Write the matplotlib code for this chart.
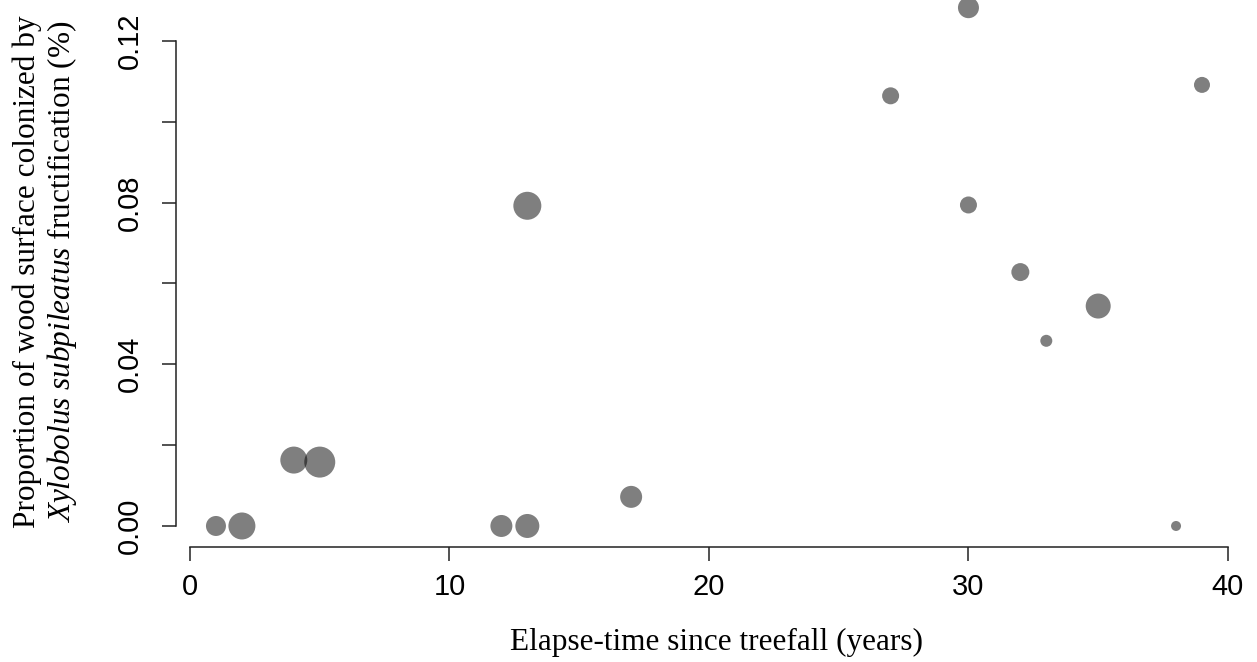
import numpy as np
import matplotlib.pyplot as plt

# Data
years = [1, 2, 4, 5, 12, 13, 13, 17, 27, 30, 30, 32, 33, 35, 38, 39]
proportion = [0.0, 0.0, 0.0163, 0.0158, 0.0, 0.0, 0.0792, 0.0072,
              0.1064, 0.1282, 0.0794, 0.0628, 0.0458, 0.0544, 0.0, 0.1091]
# relative bubble size (marker diameter, px)
bubble = [20, 27, 27, 31, 22, 24, 28, 22, 17, 21, 17, 18, 12, 25, 10, 16]

x_ticks = [0, 10, 20, 30, 40]
y_ticks = [0.0, 0.02, 0.04, 0.06, 0.08, 0.10, 0.12]
y_ticklabels = ["0.00", "", "0.04", "", "0.08", "", "0.12"]

plt.rcParams['mathtext.fontset'] = 'custom'
plt.rcParams['mathtext.rm'] = 'Liberation Serif'
plt.rcParams['mathtext.it'] = 'Liberation Serif:italic'

W, H = 1257, 662
fig = plt.figure(figsize=(W / 100, H / 100), dpi=100)
ax = fig.add_axes([176 / W, (H - 547) / H, (W - 176) / W, 547 / H])

# marker diameter px -> points, squared for scatter
sizes = [(d / (100 / 72)) ** 2 for d in bubble]
ax.scatter(years, proportion, s=sizes, c="black", alpha=0.5,
           linewidths=0, clip_on=False, zorder=3)

ax.set_xlim(-0.54, 41.12)
ax.set_ylim(-0.0052, 0.1301)

for side in ["top", "right"]:
    ax.spines[side].set_visible(False)
ax.spines["left"].set_bounds(0, 0.12)
ax.spines["bottom"].set_bounds(0, 40)
for side in ["left", "bottom"]:
    ax.spines[side].set_linewidth(1.1)
    ax.spines[side].set_color("#222222")

ax.set_xticks(x_ticks)
ax.set_xticklabels([str(t) for t in x_ticks], fontfamily="Liberation Sans", fontsize=21)
ax.set_yticks(y_ticks)
ax.set_yticklabels(y_ticklabels, fontfamily="Liberation Sans", fontsize=21,
                   rotation=90, va="center")
ax.tick_params(axis="both", length=10, width=1.1, color="#222222")
ax.tick_params(axis="x", pad=9)
ax.tick_params(axis="y", pad=13)

ax.set_xlabel("Elapse-time since treefall (years)", fontfamily="Liberation Serif",
              fontsize=22.5, labelpad=19)

fig.text(27 / W, 1 - 272 / H, "Proportion of wood surface colonized by",
         rotation=90, ha="center", va="center", fontfamily="Liberation Serif", fontsize=22.5)
fig.text(62 / W, 1 - 272 / H,
         r"$\mathit{Xylobolus\ subpileatus}$ fructification (%)",
         rotation=90, ha="center", va="center", fontfamily="Liberation Serif", fontsize=22.5)

fig.savefig("out.png", dpi=100)
